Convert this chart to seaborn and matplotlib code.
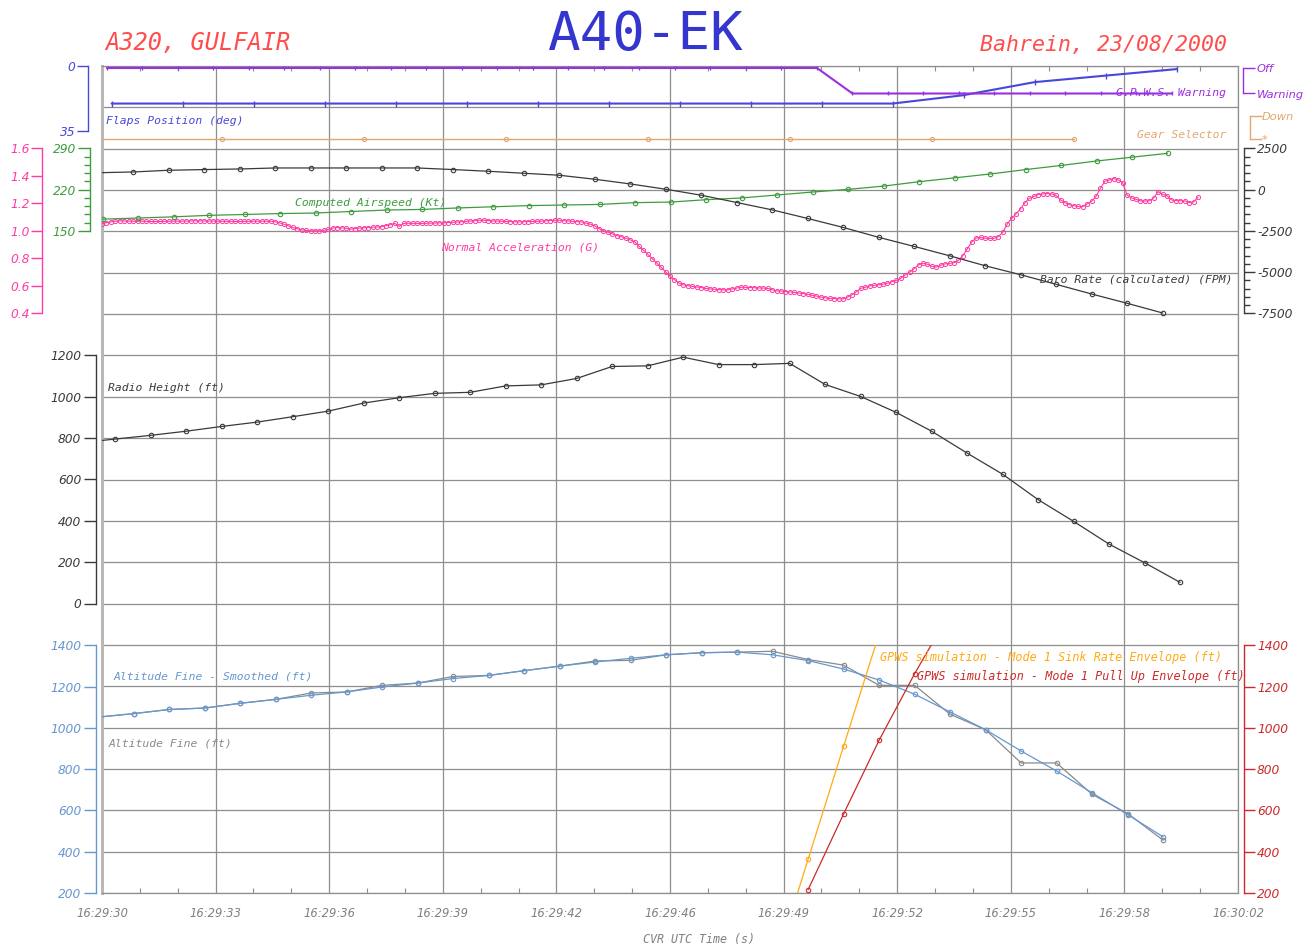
import numpy as np
import matplotlib
matplotlib.use("Agg")
import matplotlib.pyplot as plt
import seaborn as sns

sns.set_style("white")
plt.rcParams["font.family"] = ["DejaVu Sans"]

# ---------------------------------------------------------------- time axis
# seconds after 16:29:00
time_start, time_end = 30.0, 62.0
time_labels = ["16:29:30", "16:29:33", "16:29:36", "16:29:39", "16:29:42",
               "16:29:46", "16:29:49", "16:29:52", "16:29:55", "16:29:58",
               "16:30:02"]

# ------------------------------------------------------- discrete parameters
flaps_t = 30.27 + 2 * np.arange(16)
flaps_deg = [20, 20, 20, 20, 20, 20, 20, 20, 20, 20, 20, 20, 15.5, 8.5, 5, 1.5]

gpws_t = 30.14 + np.arange(31)
gpws_state = [1, 1, 1, 1, 1, 1, 1, 1, 1, 1, 1, 1, 1, 1, 1, 1, 1, 1, 1, 1, 1,
              0, 0, 0, 0, 0, 0, 0, 0, 0, 0]          # 1 = Off, 0 = Warning

gear_t = 29.37 + 4 * np.arange(8)
gear_state = [0, 0, 0, 0, 0, 0, 0, 0]                # 1 = Down

# ------------------------------------------------------------ speed & rates
ias_t = 30.02 + np.arange(31)
ias_kt = [170, 172, 174, 176.5, 178, 179.5, 180.5, 183, 185.5, 186.5, 189,
          191, 193, 194, 195, 198, 199, 203, 206, 211, 216, 220.5, 226,
          233.5, 240, 246.5, 254, 261, 268.5, 275, 281.5]

baro_t = 29.88 + np.arange(31)
baro_fpm = [1020, 1067, 1170, 1212, 1248, 1309, 1309, 1309, 1309, 1309, 1212,
            1109, 988, 868, 626, 342, 21, -342, -783, -1230, -1750, -2294,
            -2893, -3443, -4012, -4616, -5160, -5741, -6327, -6889, -7476]

nz_t = 30.0 + np.arange(248) / 8.0
nz_g = [
    1.05, 1.06, 1.065, 1.07, 1.073, 1.072, 1.071, 1.07, 1.07, 1.07,
    1.069, 1.068, 1.068, 1.068, 1.069, 1.07, 1.07, 1.07, 1.07, 1.071,
    1.072, 1.073, 1.073, 1.072, 1.071, 1.071, 1.07, 1.07, 1.069, 1.069,
    1.068, 1.068, 1.069, 1.069, 1.07, 1.07, 1.07, 1.07, 1.07, 1.066,
    1.059, 1.048, 1.036, 1.025, 1.015, 1.008, 1.003, 1.0, 1.0, 1.0,
    1.004, 1.01, 1.02, 1.024, 1.022, 1.019, 1.012, 1.016, 1.02, 1.022,
    1.024, 1.026, 1.028, 1.03, 1.038, 1.044, 1.054, 1.032, 1.054, 1.055,
    1.055, 1.054, 1.054, 1.055, 1.056, 1.057, 1.058, 1.059, 1.06, 1.062,
    1.064, 1.066, 1.068, 1.071, 1.074, 1.077, 1.077, 1.075, 1.072, 1.071,
    1.07, 1.068, 1.067, 1.066, 1.065, 1.066, 1.067, 1.068, 1.069, 1.07,
    1.073, 1.075, 1.077, 1.077, 1.074, 1.072, 1.069, 1.067, 1.065, 1.057,
    1.048, 1.038, 1.016, 1.002, 0.99, 0.978, 0.966, 0.958, 0.948, 0.935,
    0.922, 0.888, 0.859, 0.83, 0.799, 0.767, 0.735, 0.702, 0.67, 0.645,
    0.621, 0.608, 0.602, 0.596, 0.592, 0.588, 0.582, 0.578, 0.575, 0.573,
    0.571, 0.571, 0.578, 0.584, 0.59, 0.589, 0.588, 0.587, 0.585, 0.584,
    0.582, 0.572, 0.564, 0.562, 0.559, 0.556, 0.552, 0.548, 0.544, 0.539,
    0.532, 0.526, 0.519, 0.513, 0.509, 0.508, 0.506, 0.505, 0.519, 0.535,
    0.557, 0.582, 0.59, 0.60, 0.604, 0.608, 0.612, 0.62, 0.63, 0.64,
    0.655, 0.68, 0.70, 0.725, 0.752, 0.765, 0.757, 0.743, 0.736, 0.75,
    0.76, 0.764, 0.768, 0.785, 0.82, 0.87, 0.92, 0.948, 0.952, 0.946,
    0.945, 0.945, 0.958, 0.99, 1.05, 1.09, 1.125, 1.16, 1.205, 1.236,
    1.25, 1.264, 1.268, 1.271, 1.269, 1.258, 1.225, 1.205, 1.19, 1.183,
    1.177, 1.176, 1.195, 1.215, 1.25, 1.31, 1.36, 1.37, 1.38, 1.37,
    1.35, 1.26, 1.24, 1.23, 1.218, 1.217, 1.218, 1.24, 1.285, 1.265,
    1.255, 1.225, 1.22, 1.219, 1.218, 1.205, 1.21, 1.245,
]

# ------------------------------------------------------------- heights (ft)
radio_t = 29.37 + np.arange(32)
radio_ft = [777, 795, 813, 833, 856, 877, 903, 930, 969, 995, 1016, 1021,
            1052, 1057, 1088, 1146, 1149, 1191, 1155, 1155, 1161, 1059, 1001,
            924, 833, 727, 625, 502, 397, 287, 197, 102]

alt_t = 29.89 + np.arange(31)
alt_fine_ft = [1052, 1069, 1089, 1096, 1119, 1138, 1169, 1174, 1206, 1217,
               1249, 1254, 1277, 1299, 1324, 1327, 1354, 1364, 1367, 1371,
               1331, 1304, 1206, 1206, 1066, 991, 830, 830, 678, 585, 456]
alt_smooth_ft = [1052, 1069, 1089, 1096, 1119, 1138, 1158, 1174, 1198, 1217,
                 1239, 1254, 1277, 1299, 1319, 1337, 1354, 1364, 1367, 1354,
                 1326, 1285, 1232, 1163, 1077, 991, 888, 791, 685, 580, 472]

sink_t = [48.89, 49.89, 50.89, 51.89]
sink_env_ft = [-185, 363, 911, 1455]
pullup_t = [49.89, 50.89, 51.89, 52.89, 53.89]
pullup_env_ft = [216, 583, 940, 1262, 1560]

# ------------------------------------------------------------------ colours
C_TITLE = "#3535cf"
C_HEAD = "#ff4d4d"
C_FLAPS = "#4848d8"
C_GPWS = "#9a2fe0"
C_GEAR = "#e2a66e"
C_NZ = "#ff3ca2"
C_IAS = "#3e9c3e"
C_DARK = "#3a3a3a"
C_ALT = "#8a8a8a"
C_SMOOTH = "#6697cf"
C_SINK = "#ffaa14"
C_PULL = "#cc2a2a"
C_GRID = "#8e8e8e"
C_TIME = "#808080"

# ------------------------------------------------------------------- layout
W, H = 1310, 947
LEFT, RIGHT, TOP, BOTTOM = 102, 1238, 66, 893
PX = 0.72  # points per pixel at 100 dpi

fig = plt.figure(figsize=(W / 100, H / 100), dpi=100)


def pxbox(top, bottom):
    return [LEFT / W, 1 - bottom / H, (RIGHT - LEFT) / W, (bottom - top) / H]


def text(x, y, s, color, ha="left", size=8.2, family="DejaVu Sans Mono",
         style="oblique", **kw):
    fig.text(x / W, 1 - y / H, s, color=color, ha=ha, va="baseline",
             fontsize=size, family=family, style=style, **kw)


# background frame with the common grid and the time axis
grid = fig.add_axes(pxbox(TOP, BOTTOM))
grid.set_xlim(time_start, time_end)
grid.set_ylim(20, 0)
grid.set_yticks(np.arange(21))
grid.tick_params(axis="y", length=0, labelleft=False)
grid.set_xticks(np.linspace(time_start, time_end, 11), labels=time_labels,
                fontsize=8.3, style="oblique", color=C_TIME)
grid.set_xticks(np.linspace(time_start, time_end, 31), minor=True)
grid.grid(True, which="major", color=C_GRID, lw=0.9)
grid.tick_params(axis="x", which="major", length=0, pad=10)
grid.tick_params(axis="x", which="minor", direction="in", top=True,
                 bottom=True, length=5 * PX, width=0.8, color=C_GRID)
for name, sp in grid.spines.items():
    sp.set_color(C_GRID)
    sp.set_linewidth(0.9)
grid.spines["left"].set_color("#b8b8b8")
grid.spines["left"].set_linewidth(2.2)


def overlay(top, bottom, ref_a, ref_b):
    (va, pa), (vb, pb) = ref_a, ref_b
    ax = fig.add_axes(pxbox(top, bottom))
    ax.patch.set_visible(False)
    s = (vb - va) / (pb - pa)
    ax.set_xlim(time_start, time_end)
    ax.set_ylim(va + (bottom - pa) * s, va + (top - pa) * s)
    for sp in ax.spines.values():
        sp.set_visible(False)
    ax.set_xticks([])
    ax.set_yticks([])
    return ax


def series(ax, t, v, color, lw=0.9, marker="o", ms=3.2, mew=0.8, clip=True):
    sns.lineplot(x=t, y=v, ax=ax, color=color, lw=lw, marker=marker,
                 markersize=ms, markerfacecolor="none", markeredgecolor=color,
                 markeredgewidth=mew, legend=False, sort=False,
                 estimator=None, clip_on=clip)
    ax.set(xlabel="", ylabel="")


def bracket(ax, side, lo, hi, offset, color, ticks, labels, minor=None,
            length=12, fs=8.8, pad=2, family="DejaVu Sans"):
    sp = ax.spines[side]
    sp.set_visible(True)
    sp.set_bounds(lo, hi)
    sp.set_position(("outward", offset * PX))
    sp.set_color(color)
    sp.set_linewidth(1.0)
    if side == "right":
        ax.yaxis.tick_right()
    else:
        ax.yaxis.tick_left()
    ax.set_yticks(ticks, labels=labels, color=color, style="oblique",
                  fontsize=fs, family=family)
    if minor is not None:
        ax.set_yticks(minor, minor=True)
    ax.tick_params(axis="y", which="major", direction="out",
                   length=length * PX, width=1.0, color=color, pad=pad * PX)
    ax.tick_params(axis="y", which="minor", direction="out",
                   length=6 * PX, width=1.0, color=color)


# ---- top panel: flaps, GPWS warning, gear selector
ax_flaps = overlay(66, 148, (0, 66.3), (35, 131.5))
series(ax_flaps, flaps_t, flaps_deg, C_FLAPS, lw=1.5, marker="|", ms=4, mew=1)
bracket(ax_flaps, "left", 0, 35, 14, C_FLAPS, [0, 35], ["0", "35"], length=11)

ax_gpws = overlay(66, 148, (1, 68), (0, 93.5))
series(ax_gpws, gpws_t, gpws_state, C_GPWS, lw=1.5, marker="|", ms=3, mew=1)
bracket(ax_gpws, "right", 0, 1, 5, C_GPWS, [0, 1], ["Warning", "Off"],
        fs=8.2)

ax_gear = overlay(66, 148, (1, 115.7), (0, 139.5))
series(ax_gear, gear_t, gear_state, C_GEAR, lw=1.0, ms=3, mew=0.8)
bracket(ax_gear, "right", 0, 1, 12, C_GEAR, [0, 1], ["*", "Down"], fs=8.2,
        pad=0)

text(106, 124, "Flaps Position (deg)", C_FLAPS)
text(1226, 96, "G.P.W.S. Warning", C_GPWS, ha="right")
text(1226, 138, "Gear Selector", C_GEAR, ha="right")

# ---- middle panel: acceleration, airspeed, baro rate
ax_nz = overlay(148, 355, (1.6, 148.3), (0.4, 313.4))
series(ax_nz, nz_t, nz_g, C_NZ, lw=0.8, ms=3.0, mew=0.7)
bracket(ax_nz, "left", 0.4, 1.6, 60, C_NZ,
        [0.4, 0.6, 0.8, 1.0, 1.2, 1.4, 1.6],
        ["0.4", "0.6", "0.8", "1.0", "1.2", "1.4", "1.6"], length=11, pad=1)

ax_ias = overlay(148, 355, (290, 148.3), (150, 231))
series(ax_ias, ias_t, ias_kt, C_IAS)
bracket(ax_ias, "left", 150, 290, 12, C_IAS, [150, 220, 290],
        ["150", "220", "290"],
        minor=[164, 178, 192, 206, 234, 248, 262, 276], length=12)

ax_baro = overlay(148, 355, (2500, 148.3), (-7500, 313.4))
series(ax_baro, baro_t, baro_fpm, C_DARK)
bracket(ax_baro, "right", -7500, 2500, 6, C_DARK,
        [-7500, -5000, -2500, 0, 2500],
        ["-7500", "-5000", "-2500", "0", "2500"],
        minor=[v for v in range(-7500, 2501, 500) if v % 2500],
        length=11)

text(295, 206, "Computed Airspeed (Kt)", C_IAS)
text(441, 250, "Normal Acceleration (G)", C_NZ)
text(1233, 283, "Baro Rate (calculated) (FPM)", C_DARK, ha="right")

# ---- radio height panel
ax_radio = overlay(314, 645, (1200, 355.3), (0, 603.5))
series(ax_radio, radio_t, radio_ft, C_DARK)
bracket(ax_radio, "left", 0, 1200, 6.3, C_DARK,
        [0, 200, 400, 600, 800, 1000, 1200],
        ["0", "200", "400", "600", "800", "1000", "1200"], length=12.5)
text(108, 391, "Radio Height (ft)", C_DARK)

# ---- altitude panel with GPWS mode 1 envelopes
ax_alt = overlay(645, 893, (1400, 645.3), (200, 893))
series(ax_alt, alt_t, alt_fine_ft, C_ALT)
series(ax_alt, alt_t, alt_smooth_ft, C_SMOOTH)
bracket(ax_alt, "left", 200, 1400, 6.3, C_SMOOTH,
        [200, 400, 600, 800, 1000, 1200, 1400],
        ["200", "400", "600", "800", "1000", "1200", "1400"], length=12.5)

ax_env = overlay(645, 893, (1400, 645.3), (200, 893))
series(ax_env, sink_t, sink_env_ft, C_SINK)
series(ax_env, pullup_t, pullup_env_ft, C_PULL)
bracket(ax_env, "right", 200, 1400, 6, C_PULL,
        [200, 400, 600, 800, 1000, 1200, 1400],
        ["200", "400", "600", "800", "1000", "1200", "1400"], length=11)

text(114, 679, "Altitude Fine - Smoothed (ft)", C_SMOOTH)
text(109, 746, "Altitude Fine (ft)", C_ALT)
text(880, 661, "GPWS simulation - Mode 1 Sink Rate Envelope (ft)", C_SINK,
     size=8.5)
text(917, 680, "GPWS simulation - Mode 1 Pull Up Envelope (ft)", C_PULL,
     size=8.5)

# ---- headings and axis title
text(645, 50, "A40-EK", C_TITLE, ha="center", size=39, style="normal")
text(105, 50, "A320, GULFAIR", C_HEAD, size=17)
text(1227, 51, "Bahrein, 23/08/2000", C_HEAD, ha="right", size=15.5)
text(699, 943, "CVR UTC Time (s)", C_TIME, ha="center", size=8.4)

fig.savefig("out.png", dpi=100)
